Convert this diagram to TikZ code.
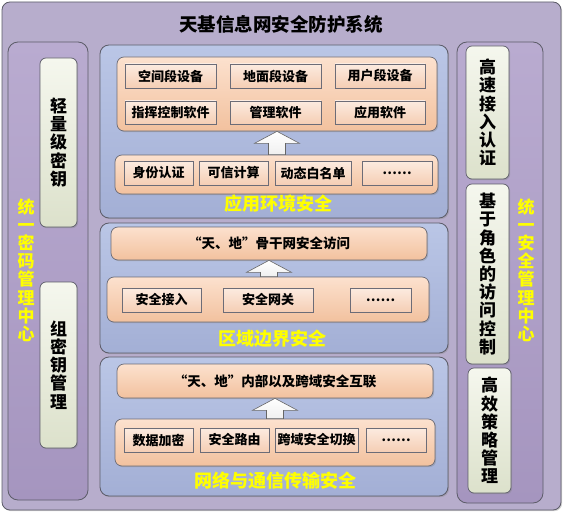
\documentclass[tikz,border=0pt]{standalone}
\usepackage{fontspec}
\setmainfont{Noto Sans CJK SC}
\usetikzlibrary{shadows,calc}
\definecolor{outerfill}{HTML}{B7ADCC}
\definecolor{sidetop}{HTML}{B9ABD0}
\definecolor{sidebot}{HTML}{A595BF}
\definecolor{bluetop}{HTML}{BAC6E6}
\definecolor{bluebot}{HTML}{A3AFD5}
\definecolor{orgtop}{HTML}{FCE1CE}
\definecolor{orgbot}{HTML}{F2C19E}
\definecolor{itemtop}{HTML}{FCEBE0}
\definecolor{itembot}{HTML}{F5CEB4}
\definecolor{sitop}{HTML}{F5F7EE}
\definecolor{sibot}{HTML}{DCE1CB}
\definecolor{edgegray}{HTML}{5C5C68}
\definecolor{lblyellow}{HTML}{FFFF00}
\newcommand\mybox[7]{%
  \pgfmathsetmacro\myCx{(#3+#5)/2}%
  \pgfmathsetmacro\myCy{(#4+#6)/2}%
  \pgfmathsetmacro\myW{#5-#3}%
  \pgfmathsetmacro\myH{#6-#4}%
  \node[#1,minimum width=\myW pt,minimum height=\myH pt,inner sep=0pt] (#2) at (\myCx,\myCy) {#7};}
\newcommand\myuparrow[2]{%
  \draw[arrowsty] let \p1=(#1.south), \p2=(#2.north) in
    (\x1-8.5pt,\y2) -- (\x1-8.5pt,\y1-12pt) -- (\x1-22.5pt,\y1-12pt) -- (\x1,\y1)
    -- (\x1+22.5pt,\y1-12pt) -- (\x1+8.5pt,\y1-12pt) -- (\x1+8.5pt,\y2) -- cycle;}
\begin{document}
\begin{tikzpicture}[x=1pt,y=-1pt,
  shd/.style={drop shadow={opacity=0.35,shadow xshift=1.2pt,shadow yshift=-1.2pt}},
  outerbox/.style={draw=edgegray,line width=0.8pt,fill=outerfill,rounded corners=8pt,shd},
  sidepanel/.style={draw=edgegray,line width=0.8pt,top color=sidetop,bottom color=sidebot,rounded corners=10pt},
  bluebox/.style={draw=edgegray,line width=0.8pt,top color=bluetop,bottom color=bluebot,rounded corners=9pt,shd},
  orangebox/.style={draw=edgegray!90,line width=0.7pt,top color=orgtop,bottom color=orgbot,rounded corners=7pt,shd,
    font=\bfseries\fontsize{13.5}{15}\selectfont},
  itembox/.style={draw=edgegray!90,line width=0.7pt,top color=itemtop,bottom color=itembot,shd,
    font=\bfseries\fontsize{13}{15}\selectfont},
  sideitem/.style={draw=edgegray,line width=0.7pt,top color=sitop,bottom color=sibot,rounded corners=6pt,shd,
    align=center,font=\bfseries\fontsize{17}{18.2}\selectfont},
  sidelbl/.style={text=lblyellow,align=center,font=\bfseries\fontsize{17}{18.2}\selectfont,inner sep=0pt},
  seclbl/.style={text=lblyellow,font=\bfseries\fontsize{18}{20}\selectfont,inner sep=0pt},
  titlelbl/.style={font=\bfseries\fontsize{18.5}{20}\selectfont,inner sep=0pt},
  arrowsty/.style={draw=gray!80!black,line width=0.6pt,top color=white,bottom color=gray!12}
]
\useasboundingbox (0,0) rectangle (567,516);
% outer frame
\mybox{outerbox}{outer}{2}{2}{561}{510}{}
\node[titlelbl] (title) at (281,24) {天基信息网安全防护系统};
% side panels
\mybox{sidepanel}{lpanel}{8}{42}{88}{500}{}
\mybox{sidepanel}{rpanel}{457}{42}{543}{503}{}
\mybox{sideitem}{lk1}{40}{58}{77}{227}{轻\\量\\级\\密\\钥}
\mybox{sideitem}{lk2}{40}{282}{77}{448}{组\\密\\钥\\管\\理}
\node[sidelbl] (llbl) at (26,270) {统\\一\\密\\码\\管\\理\\中\\心};
\mybox{sideitem}{rk1}{466}{46}{509}{179}{高\\速\\接\\入\\认\\证}
\mybox{sideitem}{rk2}{466}{184}{509}{364}{基\\于\\角\\色\\的\\访\\问\\控\\制}
\mybox{sideitem}{rk3}{468}{368}{511}{493}{高\\效\\策\\略\\管\\理}
\node[sidelbl] (rlbl) at (526,270) {统\\一\\安\\全\\管\\理\\中\\心};
% section 1
\mybox{bluebox}{s1}{100}{45}{448}{218}{}
\mybox{orangebox}{o1t}{117}{57}{437}{131}{}
\mybox{itembox}{i11}{125}{64}{216}{88}{空间段设备}
\mybox{itembox}{i12}{230}{64}{321}{88}{地面段设备}
\mybox{itembox}{i13}{335}{64}{425}{88}{用户段设备}
\mybox{itembox}{i14}{125}{101}{216}{124}{指挥控制软件}
\mybox{itembox}{i15}{230}{101}{321}{124}{管理软件}
\mybox{itembox}{i16}{335}{101}{425}{124}{应用软件}
\mybox{orangebox}{o1b}{115}{155}{438}{194}{}
\mybox{itembox}{i17}{124}{161}{193}{185}{身份认证}
\mybox{itembox}{i18}{199}{161}{268}{185}{可信计算}
\mybox{itembox}{i19}{275}{161}{351}{185}{动态白名单}
\mybox{itembox}{i110}{362}{161}{432}{185}{……}
\myuparrow{o1t}{o1b}
\node[seclbl] (l1) at (278,204) {应用环境安全};
% section 2
\mybox{bluebox}{s2}{100}{223}{448}{353}{}
\mybox{orangebox}{o2t}{111}{227}{427}{260}{“天、地”骨干网安全访问}
\mybox{orangebox}{o2b}{107}{277}{429}{322}{}
\mybox{itembox}{i21}{122}{288}{201}{312}{安全接入}
\mybox{itembox}{i22}{223}{288}{313}{312}{安全网关}
\mybox{itembox}{i23}{350}{288}{411}{312}{……}
\myuparrow{o2t}{o2b}
\node[seclbl] (l2) at (272,339) {区域边界安全};
% section 3
\mybox{bluebox}{s3}{100}{357}{448}{496}{}
\mybox{orangebox}{o3t}{117}{364}{433}{398}{“天、地”内部以及跨域安全互联}
\mybox{orangebox}{o3b}{115}{419}{435}{466}{}
\mybox{itembox}{i31}{124}{428}{193}{452}{数据加密}
\mybox{itembox}{i32}{200}{428}{269}{452}{安全路由}
\mybox{itembox}{i33}{275}{428}{358}{452}{跨域安全切换}
\mybox{itembox}{i34}{366}{428}{426}{452}{……}
\myuparrow{o3t}{o3b}
\node[seclbl] (l3) at (275,481) {网络与通信传输安全};
\end{tikzpicture}
\end{document}
